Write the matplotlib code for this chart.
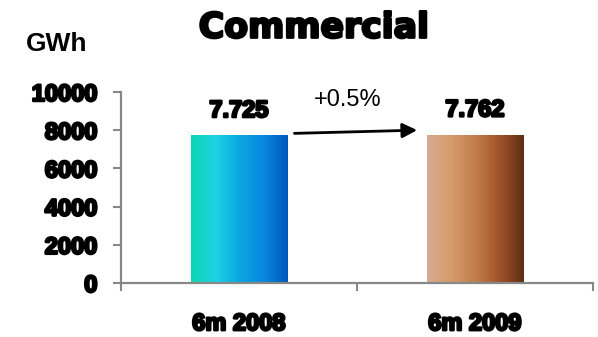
import matplotlib
matplotlib.use("Agg")
import matplotlib.pyplot as plt
import matplotlib.patheffects as pe
from matplotlib.colors import LinearSegmentedColormap
import numpy as np

# data
categories = ["6m 2008", "6m 2009"]
values = [7725, 7762]
value_labels = ["7.725", "7.762"]
change_label = "+0.5%"
y_ticks = [0, 2000, 4000, 6000, 8000, 10000]

# gradient colours for each bar (left -> right)
bar_colors = [
    ["#0cd6b2", "#1ed2e2", "#0ba8e2", "#0888e0", "#0058bc"],
    ["#d6aa94", "#d69c6a", "#c07e4c", "#a25228", "#5c2e14"],
]

plt.rcParams['font.family'] = ['Liberation Sans', 'DejaVu Sans']
heavy = [pe.withStroke(linewidth=1.8, foreground='black')]

fig = plt.figure(figsize=(5.98, 3.37), dpi=100)
ax = fig.add_axes([0.2023, 0.1602, 0.7893, 0.5668])

x = np.arange(len(categories))
bars = ax.bar(x, values, width=0.407, color='none', edgecolor='none')

# fill each bar with a horizontal gradient
grad = np.linspace(0, 1, 256).reshape(1, -1)
for b, cols in zip(bars, bar_colors):
    cmap = LinearSegmentedColormap.from_list('g', cols)
    x0, w, h = b.get_x(), b.get_width(), b.get_height()
    im = ax.imshow(grad, cmap=cmap, aspect='auto',
                   extent=[x0, x0 + w, 0, h], zorder=2)
    im.set_clip_path(b)

ax.set_xlim(-0.5, 1.5)
ax.set_ylim(0, 10000)

# value labels above the bars
for xi, v, lab in zip(x, values, value_labels):
    ax.text(xi, v + 700, lab, ha='center', va='bottom', fontsize=17,
            fontweight='bold', path_effects=heavy, zorder=3)

# growth arrow between the bars
ax.annotate('', xy=(x[1] - 0.245, values[1] + 240),
            xytext=(x[0] + 0.235, values[0] + 110),
            arrowprops=dict(arrowstyle='-|>', color='black', lw=2,
                            mutation_scale=22, shrinkA=0, shrinkB=0))
ax.text(0.46, 9000, change_label, ha='center', va='bottom', fontsize=17)

# axes styling
for side in ['top', 'right']:
    ax.spines[side].set_visible(False)
for side in ['left', 'bottom']:
    ax.spines[side].set_color('#888888')
    ax.spines[side].set_linewidth(1.6)

ax.set_yticks(y_ticks)
ax.set_yticklabels([str(t) for t in y_ticks])
ax.tick_params(axis='y', direction='out', length=6, width=1.5,
               color='#888888', pad=11)
for lab in ax.get_yticklabels():
    lab.set_fontsize(17)
    lab.set_fontweight('bold')
    lab.set_path_effects(heavy)

ax.set_xticks([-0.5, 0.5, 1.5])
ax.set_xticklabels([])
ax.tick_params(axis='x', direction='out', length=6, width=1.5,
               color='#888888')
ax.set_xticks(x, minor=True)
ax.set_xticklabels(categories, minor=True)
ax.tick_params(axis='x', which='minor', length=0, pad=21)
for lab in ax.get_xticklabels(minor=True):
    lab.set_fontsize(17)
    lab.set_fontweight('bold')
    lab.set_path_effects(heavy)

fig.text(0.525, 0.918, "Commercial", ha='center', va='center',
         fontsize=25, fontweight='bold', family=['DejaVu Sans'],
         path_effects=heavy)
fig.text(0.043, 0.87, "GWh", ha='left', va='center',
         fontsize=19, fontweight='bold')

fig.savefig("out.png", dpi=100)
